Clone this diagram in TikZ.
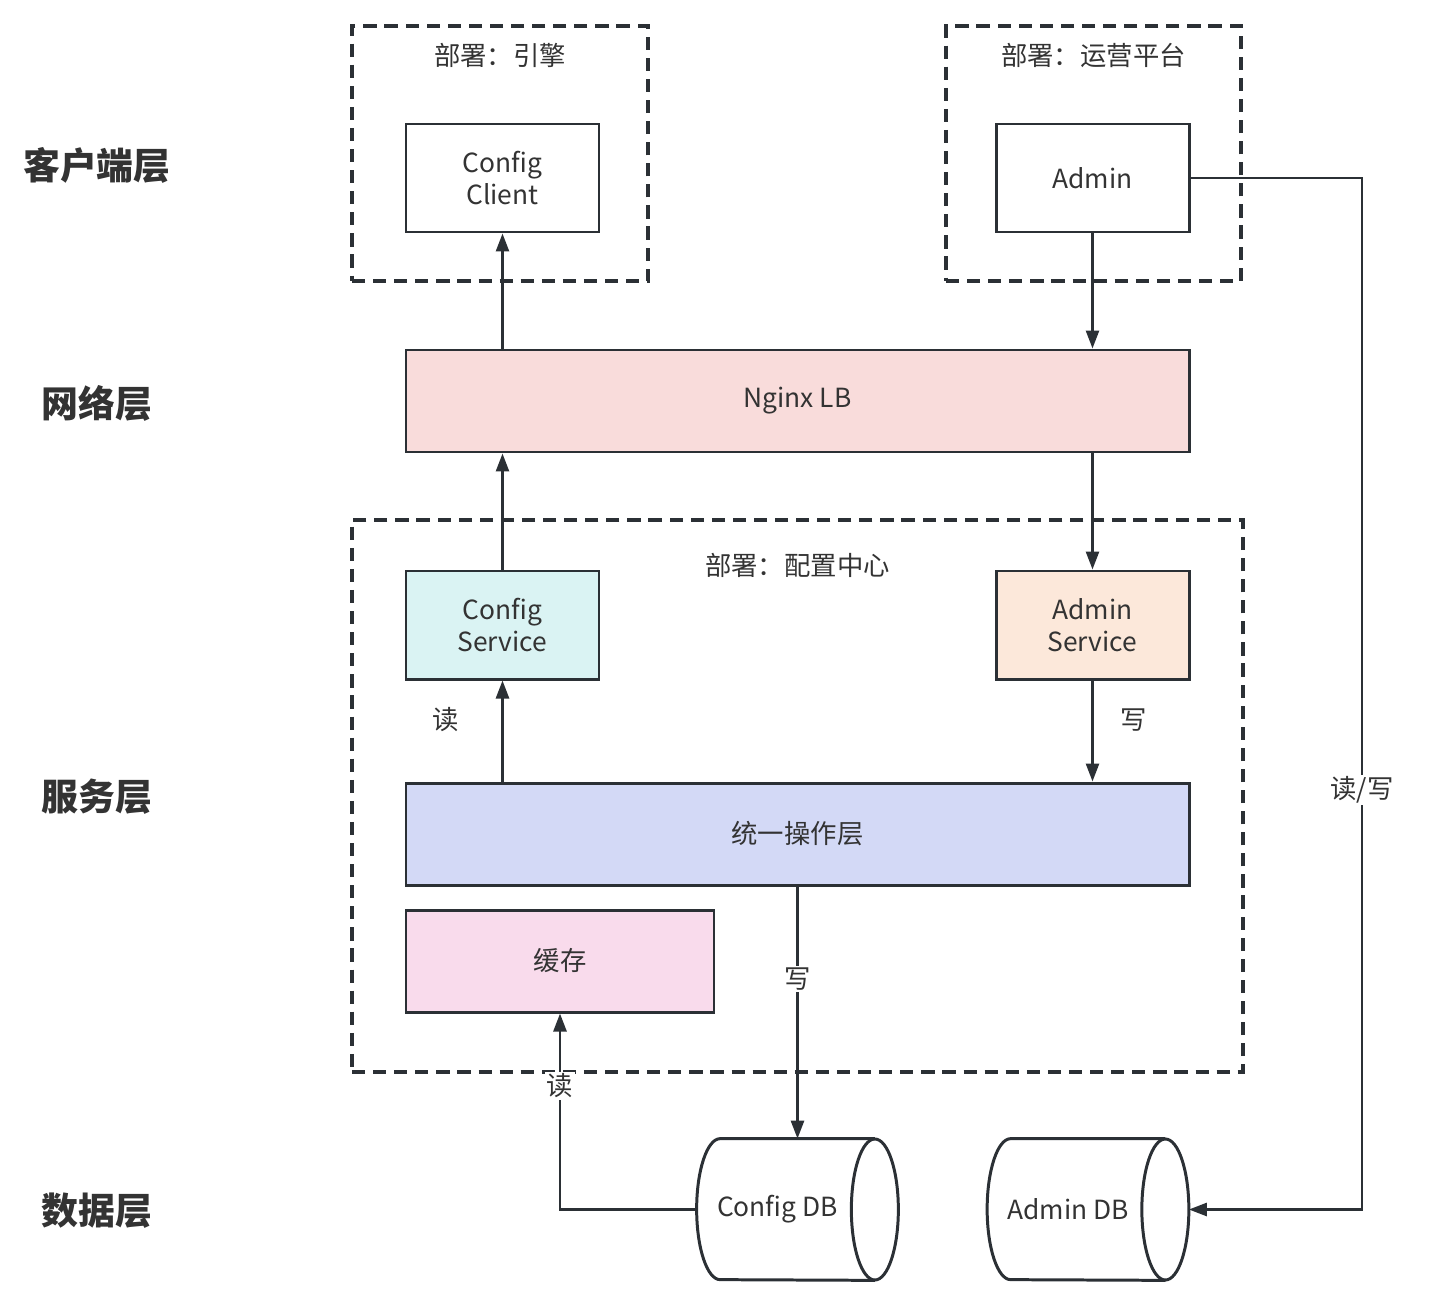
\documentclass[tikz,border=0pt]{standalone}
\usepackage{fontspec}
\usepackage{tikz}
\usetikzlibrary{arrows.meta,positioning,calc}
\newfontfamily\cjk{Noto Sans CJK SC}
\definecolor{apline}{HTML}{2B3035}
\definecolor{aptext}{HTML}{333333}
\definecolor{apnginx}{HTML}{F9DCDB}
\definecolor{apcfgsvc}{HTML}{DAF3F3}
\definecolor{apadmsvc}{HTML}{FCE8DA}
\definecolor{apunify}{HTML}{D3D9F6}
\definecolor{apcache}{HTML}{F9DBEC}
\tikzset{
  box/.style={draw=apline,line width=1.7pt,text=aptext,align=center,minimum width=3.86cm,minimum height=2.16cm,inner sep=0pt},
  bar/.style={box,minimum width=15.66cm,minimum height=2.04cm},
  deploy/.style={draw=apline,line width=1.8pt,dash pattern=on 7.5pt off 4.5pt,inner sep=0pt},
  dbnode/.style={minimum width=4.02cm,minimum height=2.82cm,inner sep=0pt,text=aptext},
  arr/.style={draw=apline,line width=1.5pt,-{Triangle[length=0.36cm,width=0.26cm]}},
  lbl/.style={text=aptext,inner sep=1pt,fill=white},
  layer/.style={text=aptext,font=\cjk\fontsize{21}{25}\selectfont\bfseries},
}
% horizontal cylinder drawn round a named node
\newcommand\dbdraw[1]{%
  \draw[apline,line width=1.7pt] ($(#1.north east)+(-0.47,0)$) -- ($(#1.north west)+(0.47,0)$)
    arc[start angle=90,end angle=270,x radius=0.47,y radius=1.41] -- ($(#1.south east)+(-0.47,0)$);
  \draw[apline,line width=1.7pt] ($(#1.east)+(-0.47,0)$) ellipse[x radius=0.47,y radius=1.41];
}
\begin{document}
\begin{tikzpicture}[font=\cjk\fontsize{15}{18}\selectfont]
  \useasboundingbox (0,0) rectangle (28.68,-26.32);

  % layer titles
  \node[layer] (lclient) at (1.94,-3.3) {客户端层};
  \node[layer] (lnet) at (1.94,-8.06) {网络层};
  \node[layer] (lsvc) at (1.94,-15.94) {服务层};
  \node[layer] (ldata) at (1.94,-24.22) {数据层};

  % deployment groups
  \node[deploy,minimum width=5.92cm,minimum height=5.1cm] (eng) at (10.0,-3.07) {};
  \node[text=aptext] at ($(eng.north)+(0,-0.62)$) {部署：引擎};
  \node[deploy,minimum width=5.9cm,minimum height=5.1cm] (ops) at (21.87,-3.07) {};
  \node[text=aptext] at ($(ops.north)+(0,-0.62)$) {部署：运营平台};
  \node[deploy,minimum width=17.82cm,minimum height=11.04cm] (ctr) at (15.95,-15.92) {};
  \node[text=aptext] at ($(ctr.north)+(0,-0.94)$) {部署：配置中心};

  % nodes
  \node[box] (cc) at (10.05,-3.56) {Config\\Client};
  \node[box] (admin) at (21.85,-3.56) {Admin};
  \node[bar,fill=apnginx] (nginx) at (15.95,-8.02) {Nginx LB};
  \node[box,fill=apcfgsvc] (cs) at (10.05,-12.5) {Config\\Service};
  \node[box,fill=apadmsvc] (as) at (21.85,-12.5) {Admin\\Service};
  \node[bar,fill=apunify] (uop) at (15.95,-16.68) {统一操作层};
  \node[box,fill=apcache,minimum width=6.16cm,minimum height=2.04cm] (cache) at (11.2,-19.22) {缓存};
  \node[dbnode] (cdb) at (15.95,-24.19) {\hspace*{-0.8cm}Config DB};
  \node[dbnode] (adb) at (21.76,-24.19) {\hspace*{-0.8cm}Admin DB};
  \dbdraw{cdb}
  \dbdraw{adb}
  \coordinate (rw) at (27.24,0);

  % connectors
  \draw[arr] (nginx.north -| cc) -- (cc.south);
  \draw[arr] (admin.south) -- (nginx.north -| admin);
  \draw[arr] (cs.north) -- (nginx.south -| cs);
  \draw[arr] (nginx.south -| as) -- (as.north);
  \draw[arr] (uop.north -| cs) -- (cs.south) node[midway,left=0.84cm,text=aptext,inner sep=0pt,yshift=0.22cm] {读};
  \draw[arr] (as.south) -- (uop.north -| as) node[midway,right=0.54cm,text=aptext,inner sep=0pt,yshift=0.22cm] {写};
  \draw[arr] (uop.south) -- (cdb.north) node[lbl,pos=0.366] {写};
  \draw[arr] (cdb.west) -| (cache.south) node[lbl,pos=0.816] {读};
  \draw[arr] (admin.east) -- (admin.east -| rw) -- (adb.east -| rw) node[lbl,pos=0.593] {读/写} -- (adb.east);
\end{tikzpicture}
\end{document}
